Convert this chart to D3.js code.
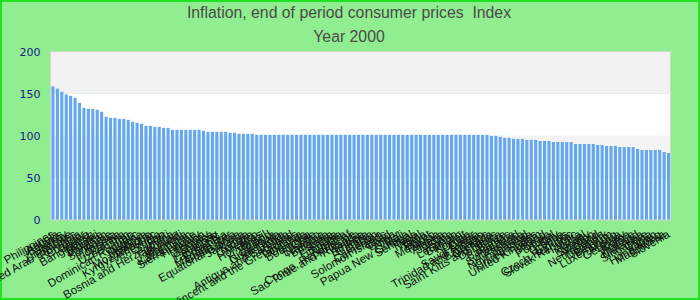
<!DOCTYPE html>
<html><head><meta charset="utf-8">
<script src="https://cdn.jsdelivr.net/npm/d3@7"></script>
<style>body{margin:0;padding:0;background:#fff}svg{display:block}</style>
</head><body>
<svg id="chart" width="700" height="300"></svg>
<script>
const titleLines = ["Inflation, end of period consumer prices  Index", "Year 2000"];
const yTicks = [0, 50, 100, 150, 200];

const values = [
  158.7, 156, 152.4, 149.2, 147.6, 145.2, 139.3, 133.3, 132.1, 132.1,
  131, 128.6, 122.6, 121.4, 121.4, 120.2, 120.2, 119, 116.7, 115.5,
  114.3, 111.9, 111.9, 110.7, 110.7, 109.5, 109.5, 107.1, 107.1, 107.1,
  107.1, 107.1, 107.1, 107.1, 106, 104.8, 104.8, 104.8, 104.8, 104.8,
  103.6, 103.6, 102.4, 102.4, 102.4, 102.4, 101.2, 101.2, 101.2, 101.2,
  101.2, 101.2, 101.2, 101.2, 101.2, 101.2, 101.2, 101.2, 101.2, 101.2,
  101.2, 101.2, 101.2, 101.2, 101.2, 101.2, 101.2, 101.2, 101.2, 101.2,
  101.2, 101.2, 101.2, 101.2, 101.2, 101.2, 101.2, 101.2, 101.2, 101.2,
  101.2, 101.2, 101.2, 101.2, 101.2, 101.2, 101.2, 101.2, 101.2, 101.2,
  101.2, 101.2, 101.2, 101.2, 101.2, 101.2, 101.2, 101.2, 101.2, 100,
  100, 98.8, 97.6, 97.6, 96.4, 96.4, 96.4, 95.2, 95.2, 95.2,
  93.9, 93.9, 93.9, 92.7, 92.7, 92.7, 92.7, 92.7, 90.3, 90.3,
  90.3, 90.3, 90.3, 89.1, 89.1, 87.9, 87.9, 87.9, 86.7, 86.7,
  86.7, 86.7, 84.4, 83.2, 83.2, 83.2, 83.2, 83.2, 80.8, 79.6
];

const countries = [
  "Philippines", "Angola", "Belarus", "Turkey", "Zimbabwe", "United Arab Emirates", "Romania", "Ecuador", "Ghana", "Bangladesh",
  "Malawi", "Ukraine", "Pakistan", "Suriname", "Russia", "Indonesia", "Zambia", "Uzbekistan", "Iran", "Dominican Republic",
  "Nigeria", "Moldova", "Mozambique", "Kyrgyz Republic", "Venezuela", "Sudan", "Haiti", "Bosnia and Herzegovina", "Tajikistan", "Burundi",
  "Mongolia", "Kazakhstan", "Sierra Leone", "Hungary", "Yemen", "Uruguay", "Guinea", "Paraguay", "Lao P.D.R.", "Colombia",
  "Madagascar", "Costa Rica", "Equatorial Guinea", "Jamaica", "Kenya", "Georgia", "Mexico", "Honduras", "Brazil", "Poland",
  "Nicaragua", "Guatemala", "Sri Lanka", "Antigua and Barbuda", "Iceland", "Saint Vincent and the Grenadines", "Tanzania", "Uganda", "Botswana", "Chile",
  "Lesotho", "Namibia", "Bulgaria", "Estonia", "Latvia", "Lithuania", "Croatia", "Congo, Republic of", "Sao Tome and Principe", "Rwanda",
  "Eritrea", "Ethiopia", "Gambia", "Gabon", "Cameroon", "Solomon Islands", "Chad", "Benin", "Niger", "Mali",
  "Papua New Guinea", "Senegal", "Togo", "Nepal", "India", "Egypt", "Morocco", "Tunisia", "Algeria", "Jordan",
  "Syria", "Lebanon", "Bahrain", "Kuwait", "Oman", "Qatar", "Saudi Arabia", "Trinidad and Tobago", "Barbados", "Grenada",
  "Saint Kitts and Nevis", "Dominica", "Belize", "Bahamas", "Panama", "Switzerland", "Australia", "New Zealand", "Canada", "United States",
  "United Kingdom", "Ireland", "Spain", "Portugal", "Italy", "Greece", "Cyprus", "Czech Republic", "Slovak Republic", "Malta",
  "Israel", "Norway", "Sweden", "Finland", "Netherlands", "Denmark", "Belgium", "Luxembourg", "Austria", "Germany",
  "Korea", "France", "Thailand", "Malaysia", "Singapore", "China", "Japan", "Hong Kong", "Macedonia", "Slovenia"
];

const W = 700, H = 300;
const svg = d3.select("#chart");
const plot = {left: 50.5, right: 670.5, top: 51.7, bottom: 220};

svg.append("rect").attr("x", 0).attr("y", 0).attr("width", W).attr("height", H)
  .attr("fill", "#90ee90");
svg.append("rect").attr("x", 1).attr("y", 1).attr("width", W - 2).attr("height", H - 2)
  .attr("fill", "none").attr("stroke", "#22e022").attr("stroke-width", 2);

const x = d3.scaleBand().domain(d3.range(values.length))
  .range([plot.left, plot.right + 0.5]).paddingInner(0.3).paddingOuter(0.2);
const y = d3.scaleLinear().domain([0, 200]).range([plot.bottom, plot.top]);

// bands
const bandFills = ["#ffffff", "#f3f3f3", "#ffffff", "#f2f2f2"];
for (let i = 0; i < yTicks.length - 1; i++) {
  svg.append("rect").attr("x", plot.left).attr("width", plot.right - plot.left)
    .attr("y", y(yTicks[i + 1])).attr("height", y(yTicks[i]) - y(yTicks[i + 1]))
    .attr("fill", bandFills[i]);
}

// bars
svg.append("g").selectAll("rect").data(values).join("rect")
  .attr("x", (d, i) => x(i)).attr("width", x.bandwidth())
  .attr("y", d => y(d)).attr("height", d => y(0) - y(d))
  .attr("fill", "#63a7f1");

// frame
svg.append("rect").attr("x", plot.left).attr("y", plot.top)
  .attr("width", plot.right - plot.left).attr("height", plot.bottom - plot.top)
  .attr("fill", "none").attr("stroke", "#d4d4d4").attr("stroke-width", 1);

// y axis
const yAxis = d3.axisLeft(y).tickValues(yTicks).tickSize(0).tickPadding(10);
const gy = svg.append("g").attr("transform", `translate(${plot.left},0)`).call(yAxis);
gy.select(".domain").remove();
gy.selectAll("text").attr("font-family", "DejaVu Sans").attr("font-size", 11)
  .attr("fill", "#1a1a8a");

// x labels
const xAxis = d3.axisBottom(x).tickFormat(i => countries[i]).tickSize(0).tickPadding(0);
const gx = svg.append("g").attr("transform", `translate(0,${plot.bottom})`).call(xAxis);
gx.select(".domain").remove();
gx.selectAll("text")
  .attr("font-family", "'Liberation Sans', Arial, sans-serif").attr("font-size", 11.5).attr("fill", "#111")
  .attr("text-anchor", "end")
  .attr("dy", "0.35em")
  .attr("transform", "translate(0,13) rotate(-30)");

// title
svg.append("g").selectAll("text").data(titleLines).join("text")
  .attr("x", 349).attr("y", (d, i) => 18.5 + i * 23.5)
  .attr("text-anchor", "middle")
  .attr("transform", "translate(349,0) scale(0.93,1) translate(-349,0)")
  .style("white-space", "pre")
  .attr("font-family", "'Liberation Sans', Arial, sans-serif")
  .attr("font-size", 17).attr("fill", "#4a4a4a")
  .text(d => d);
</script>
</body></html>
